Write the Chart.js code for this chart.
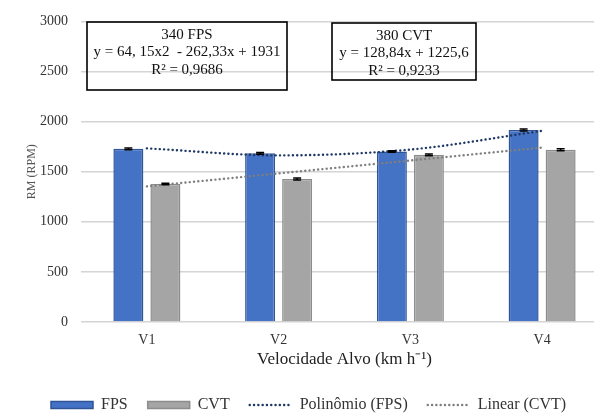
<!DOCTYPE html>
<html>
<head>
<meta charset="utf-8">
<script src="https://cdn.jsdelivr.net/npm/chart.js@4.4.0/dist/chart.umd.min.js"></script>
<style>
  html, body { margin: 0; padding: 0; background: #fff; overflow: hidden; }
  #wrap { width: 594px; height: 414px; overflow: hidden; }
</style>
</head>
<body>
<div id="wrap">
  <canvas id="rmChart" width="610" height="414"></canvas>
</div>
<script>
// Data
const categories = ['V1', 'V2', 'V3', 'V4'];
const fpsValues = [1728, 1683, 1702, 1915];
const cvtValues = [1377, 1428, 1668, 1718];
const fpsErrors = [8, 8, 8, 10];
const cvtErrors = [8, 10, 8, 10];
// trend lines as read at each category centre
const fpsTrend = [1733, 1663, 1721, 1908];
const cvtTrend = [1354, 1483, 1612, 1741];
const yTicks = [0, 500, 1000, 1500, 2000, 2500, 3000];

// Equation boxes
const boxes = [
    { x: 87, y: 22, w: 200, h: 68, lines: ['340 FPS', 'y = 64, 15x2  - 262,33x + 1931', 'R² = 0,9686'] },
    { x: 332, y: 23, w: 144, h: 57, lines: ['380 CVT', 'y = 128,84x + 1225,6', 'R² = 0,9233'] }
];

const serif = "'Liberation Serif', 'Times New Roman', serif";
Chart.defaults.font.family = serif;
Chart.defaults.color = '#404040';

// Error bars on top of the columns
const errorBars = {
    id: 'errorBars',
    afterDatasetsDraw(chart) {
        const ctx = chart.ctx;
        const yScale = chart.scales.y;
        const errs = [fpsErrors, cvtErrors];
        ctx.save();
        ctx.strokeStyle = '#000';
        ctx.lineWidth = 1.5;
        [0, 1].forEach(di => {
            const meta = chart.getDatasetMeta(di);
            meta.data.forEach((bar, i) => {
                const v = chart.data.datasets[di].data[i];
                const top = yScale.getPixelForValue(v + errs[di][i]);
                const bot = yScale.getPixelForValue(v - errs[di][i]);
                ctx.beginPath();
                ctx.moveTo(bar.x, top); ctx.lineTo(bar.x, bot);
                ctx.moveTo(bar.x - 4, top); ctx.lineTo(bar.x + 4, top);
                ctx.moveTo(bar.x - 4, bot); ctx.lineTo(bar.x + 4, bot);
                ctx.stroke();
            });
        });
        ctx.restore();
    }
};

// Boxes with the regression equations
const equationBoxes = {
    id: 'equationBoxes',
    afterDraw(chart) {
        const ctx = chart.ctx;
        ctx.save();
        boxes.forEach(b => {
            ctx.strokeStyle = '#000';
            ctx.lineWidth = 1.6;
            ctx.strokeRect(b.x, b.y, b.w, b.h);
            ctx.fillStyle = '#111';
            ctx.font = '15px ' + serif;
            ctx.textAlign = 'center';
            ctx.textBaseline = 'middle';
            b.lines.forEach((t, i) => {
                ctx.fillText(t, b.x + b.w / 2, b.y + 13 + i * 17.5);
            });
        });
        ctx.restore();
    }
};

// Nudge the legend to where it sits in the figure
const legendShift = {
    id: 'legendShift',
    afterLayout(chart) {
        const lg = chart.legend;
        lg.left += 31; lg.right += 31;
        lg.top += 9; lg.bottom += 9;
    }
};

const ctx = document.getElementById('rmChart').getContext('2d');
const rmChart = new Chart(ctx, {
    data: {
        labels: categories,
        datasets: [
            {
                type: 'bar',
                label: 'FPS',
                data: fpsValues,
                backgroundColor: '#4472C4',
                borderColor: '#2F5597',
                borderWidth: 1.5,
                order: 2
            },
            {
                type: 'bar',
                label: 'CVT',
                data: cvtValues,
                backgroundColor: '#A5A5A5',
                borderColor: '#8C8C8C',
                borderWidth: 1.5,
                order: 2
            },
            {
                type: 'line',
                label: 'Polinômio (FPS)',
                data: fpsTrend,
                borderColor: '#1F3864',
                borderWidth: 2.4,
                borderDash: [0.1, 4.2],
                borderCapStyle: 'round',
                cubicInterpolationMode: 'monotone',
                pointRadius: 0,
                fill: false,
                order: 1
            },
            {
                type: 'line',
                label: 'Linear (CVT)',
                data: cvtTrend,
                borderColor: '#7F7F7F',
                borderWidth: 2.4,
                borderDash: [0.1, 4.2],
                borderCapStyle: 'round',
                pointRadius: 0,
                fill: false,
                order: 1
            }
        ]
    },
    options: {
        responsive: false,
        animation: false,
        layout: { padding: { top: 20, right: 2, left: 0, bottom: 0 } },
        datasets: {
            bar: { categoryPercentage: 0.562, barPercentage: 0.81 }
        },
        plugins: {
            legend: {
                position: 'bottom',
                align: 'start',
                labels: {
                    usePointStyle: true,
                    pointStyleWidth: 42,
                    boxHeight: 7,
                    padding: 20,
                    color: '#333',
                    font: { size: 16 },
                    sort: (a, b) => a.datasetIndex - b.datasetIndex,
                    generateLabels(chart) {
                        const items = Chart.defaults.plugins.legend.labels.generateLabels(chart);
                        items.forEach(it => {
                            const ds = chart.data.datasets[it.datasetIndex];
                            if (ds.type === 'line') {
                                it.pointStyle = 'line';
                                it.strokeStyle = ds.borderColor;
                                it.lineWidth = ds.borderWidth;
                                it.lineDash = ds.borderDash;
                                it.lineCap = 'round';
                            } else {
                                it.pointStyle = 'rect';
                            }
                        });
                        return items;
                    }
                }
            },
            tooltip: { enabled: false }
        },
        scales: {
            x: {
                grid: { display: false, drawTicks: false },
                border: { display: false },
                ticks: { padding: 10, color: '#333', font: { size: 14 } },
                title: {
                    display: true,
                    text: 'Velocidade Alvo (km h⁻¹)',
                    color: '#222',
                    font: { size: 17 },
                    padding: { top: 0, bottom: -2 }
                },
                afterFit(scale) { scale.height = 46; }
            },
            y: {
                min: 0,
                max: 3000,
                afterBuildTicks(scale) { scale.ticks = yTicks.map(v => ({ value: v })); },
                grid: { color: '#d4d4d4', lineWidth: 1.4, drawTicks: false },
                border: { display: false },
                ticks: {
                    padding: 13,
                    color: '#333',
                    font: { size: 14 },
                    callback: value => String(value)
                },
                title: {
                    display: true,
                    text: 'RM (RPM)',
                    color: '#555',
                    font: { size: 12 },
                    padding: { top: 25, bottom: 0 }
                },
                afterFit(scale) { scale.width = 81; }
            }
        }
    },
    plugins: [errorBars, equationBoxes, legendShift]
});
</script>
</body>
</html>
